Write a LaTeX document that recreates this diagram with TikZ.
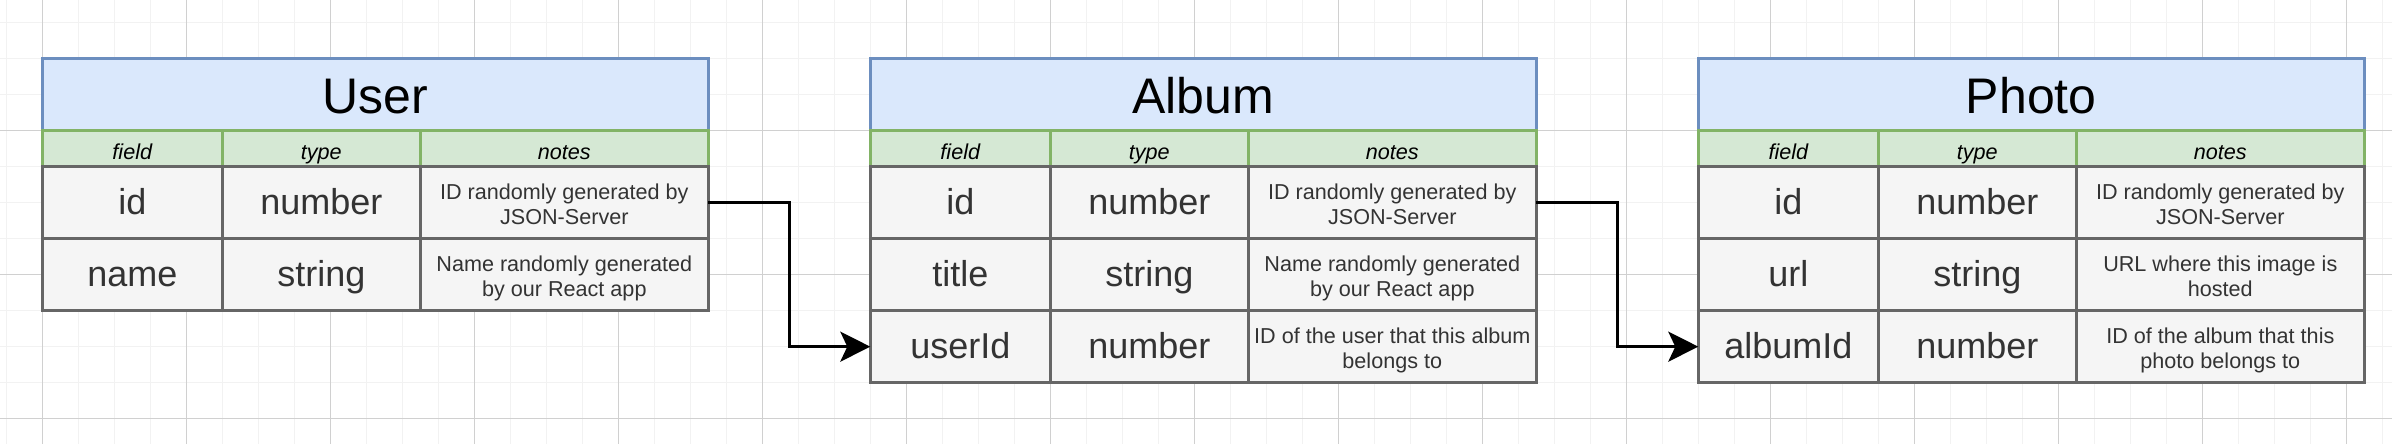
\documentclass[tikz,border=0pt]{standalone}
\usepackage{fontspec}
\setmainfont{Liberation Sans}
\usepackage{xcolor}
\usepackage{tikz}
\usetikzlibrary{
    calc,
    positioning,
    arrows.meta
}

\begin{document}
\begin{tikzpicture}[
    x=1.8pt,
    y=1.8pt,
    minorgrid/.style={
    	draw=gridminor,
    	line width=0.65pt
    },
    majorgrid/.style={
    	draw=gridmajor,
    	line width=0.5pt
    },
    head/.style={
    	draw=headline,
    	fill=headfill,
    	line width=1.3pt,
    	minimum width=333pt,
    	minimum height=36pt,
    	inner sep=0pt,
    	outer sep=0pt,
    	anchor=north west,
    	text height=19.3pt,
    	text depth=0pt,
    	font=\fontsize{25}{30}\selectfont
    },
    colhead/.style={
    	draw=colline,
    	fill=colfill,
    	line width=1.3pt,
    	minimum height=18pt,
    	inner sep=0pt,
    	outer sep=0pt,
    	anchor=north west,
    	text height=10.6pt,
    	text depth=0pt,
    	font=\fontsize{10.8}{13}\selectfont\itshape
    },
    cell/.style={
    	draw=cellline,
    	fill=cellfill,
    	text=celltext,
    	line width=1.3pt,
    	minimum height=36pt,
    	inner sep=0pt,
    	outer sep=0pt,
    	anchor=north west,
    	text height=12.3pt,
    	text depth=0pt,
    	font=\fontsize{18}{21.6}\selectfont
    },
    note/.style={
    	cell,
    	minimum width=144pt,
    	align=center,
    	text height=21.7pt,
    	text depth=0pt,
    	font=\fontsize{10.8}{12.5}\selectfont
    },
    wf/.style={minimum width=90pt},
    wt/.style={minimum width=99pt},
    wn/.style={minimum width=144pt},
    link/.style={
    	draw=black,
    	line width=1.3pt,
    	-{Stealth[length=15pt, width=15pt, inset=3.5pt]}
    }]
    \definecolor{gridminor}{RGB}{242, 242, 242}
    \definecolor{gridmajor}{RGB}{208, 208, 208}
    \definecolor{headfill}{RGB}{218, 232, 252}
    \definecolor{headline}{RGB}{108, 142, 191}
    \definecolor{colfill}{RGB}{213, 232, 212}
    \definecolor{colline}{RGB}{130, 179, 102}
    \definecolor{cellfill}{RGB}{245, 245, 245}
    \definecolor{cellline}{RGB}{102, 102, 102}
    \definecolor{celltext}{RGB}{51, 51, 51}

    \useasboundingbox (-11.75,-107.03) rectangle (652.7,16.3);
    \fill[white] (-11.75,-107.03) rectangle (652.7,16.3);

    \foreach \gx in {-10,0,...,650}
        \draw[minorgrid] (\gx,16.3) -- (\gx,-107.03);
    \foreach \gy in {10,0,...,-100}
        \draw[minorgrid] (-11.75,\gy) -- (652.7,\gy);
    \foreach \gx in {0,40,...,640}
        \draw[majorgrid] (\gx,16.3) -- (\gx,-107.03);
    \foreach \gy in {-20,-60,-100}
        \draw[majorgrid] (-11.75,\gy) -- (652.7,\gy);

    % User
    \node[head] (user) at (0,0) {User};
    \node[colhead, wf] (user-field) at (0,-20) {field};
    \node[colhead, wt] (user-type) at (50,-20) {type};
    \node[colhead, wn] (user-notes) at (105,-20) {notes};
    \node[cell, wf] (user-id) at (0,-30) {id};
    \node[cell, wt] (user-id-type) at (50,-30) {number};
    \node[note] (user-id-notes) at (105,-30) {ID randomly generated by\\JSON-Server};
    \node[cell, wf] (user-name) at (0,-50) {name};
    \node[cell, wt] (user-name-type) at (50,-50) {string};
    \node[note] (user-name-notes) at (105,-50) {Name randomly generated\\by our React app};

    % Album
    \node[head] (album) at (230,0) {Album};
    \node[colhead, wf] (album-field) at (230,-20) {field};
    \node[colhead, wt] (album-type) at (280,-20) {type};
    \node[colhead, wn] (album-notes) at (335,-20) {notes};
    \node[cell, wf] (album-id) at (230,-30) {id};
    \node[cell, wt] (album-id-type) at (280,-30) {number};
    \node[note] (album-id-notes) at (335,-30) {ID randomly generated by\\JSON-Server};
    \node[cell, wf] (album-title) at (230,-50) {title};
    \node[cell, wt] (album-title-type) at (280,-50) {string};
    \node[note] (album-title-notes) at (335,-50) {Name randomly generated\\by our React app};
    \node[cell, wf] (album-userid) at (230,-70) {userId};
    \node[cell, wt] (album-userid-type) at (280,-70) {number};
    \node[note] (album-userid-notes) at (335,-70) {ID of the user that this album\\belongs to};

    % Photo
    \node[head] (photo) at (460,0) {Photo};
    \node[colhead, wf] (photo-field) at (460,-20) {field};
    \node[colhead, wt] (photo-type) at (510,-20) {type};
    \node[colhead, wn] (photo-notes) at (565,-20) {notes};
    \node[cell, wf] (photo-id) at (460,-30) {id};
    \node[cell, wt] (photo-id-type) at (510,-30) {number};
    \node[note] (photo-id-notes) at (565,-30) {ID randomly generated by\\JSON-Server};
    \node[cell, wf] (photo-url) at (460,-50) {url};
    \node[cell, wt] (photo-url-type) at (510,-50) {string};
    \node[note] (photo-url-notes) at (565,-50) {URL where this image is\\hosted};
    \node[cell, wf] (photo-albumid) at (460,-70) {albumId};
    \node[cell, wt] (photo-albumid-type) at (510,-70) {number};
    \node[note] (photo-albumid-notes) at (565,-70) {ID of the album that this\\photo belongs to};

    \draw[link] (user-id-notes.east) -- ++(22.5,0) |- (album-userid.west);
    \draw[link] (album-id-notes.east) -- ++(22.5,0) |- (photo-albumid.west);

    \end{tikzpicture}
\end{document}
